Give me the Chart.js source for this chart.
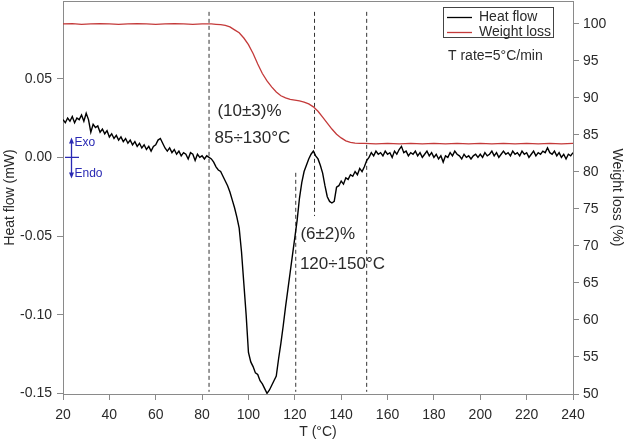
<!DOCTYPE html>
<html lang="en">
<head>
  <meta charset="UTF-8" />
  <title>Heat flow / Weight loss</title>
  <script src="https://cdnjs.cloudflare.com/ajax/libs/Chart.js/4.4.1/chart.umd.js"></script>
  <style>
    html, body { margin: 0; padding: 0; background: #fff; }
    #wrap { width: 625px; height: 443px; }
  </style>
</head>
<body>
  <div id="wrap"><canvas id="tga"></canvas></div>

  <script>
    // heat flow (mW), one reading per °C starting at 20 °C
    const heatStartT = 20;
    const heatFlow = [
      0.024, 0.022, 0.025, 0.023, 0.026, 0.022, 0.025, 0.024, 0.027, 0.023,
      0.028, 0.024, 0.016, 0.021, 0.019, 0.020, 0.016, 0.018, 0.015, 0.017,
      0.013, 0.015, 0.012, 0.014, 0.011, 0.013, 0.010, 0.012, 0.009, 0.011,
      0.008, 0.010, 0.007, 0.009, 0.006, 0.008, 0.005, 0.007, 0.004, 0.007,
      0.008, 0.011, 0.012, 0.009, 0.006, 0.004, 0.006, 0.003, 0.005, 0.002,
      0.004, 0.001, 0.003, 0.002, -0.001, 0.003, 0.002, -0.002, 0.002, 0.000,
      0.001, -0.001, 0.001, 0.000, -0.001, -0.003, -0.006, -0.008, -0.009, -0.012,
      -0.015, -0.018, -0.022, -0.027, -0.032, -0.038, -0.045, -0.060, -0.080, -0.100,
      -0.124, -0.130, -0.133, -0.137, -0.138, -0.142, -0.144, -0.147, -0.150, -0.148,
      -0.145, -0.142, -0.139, -0.128, -0.118, -0.107, -0.095, -0.084, -0.073, -0.062,
      -0.051, -0.040, -0.026, -0.016, -0.009, -0.005, -0.001, 0.002, 0.004, 0.001,
      -0.001, -0.005, -0.010, -0.018, -0.025, -0.028, -0.029, -0.028, -0.019, -0.018,
      -0.015, -0.017, -0.013, -0.014, -0.011, -0.012, -0.009, -0.011, -0.007, -0.009,
      -0.006, -0.002, 0.000, 0.003, 0.001, 0.004, 0.002, 0.003, 0.001, 0.004,
      0.002, 0.003, 0.000, 0.004, 0.002, 0.005, 0.007, 0.003, 0.004, 0.001,
      0.003, 0.002, 0.004, 0.001, 0.003, 0.000, 0.002, 0.004, 0.001, 0.003,
      0.000, 0.002, -0.001, 0.001, -0.003, 0.001, 0.000, 0.003, 0.001, 0.004,
      0.002, 0.001, -0.001, 0.002, 0.000, 0.001, -0.001, 0.001, 0.002, 0.000,
      0.002, 0.000, 0.003, 0.001, 0.002, 0.004, 0.001, 0.003, 0.000, 0.002,
      0.004, 0.002, 0.003, 0.001, 0.004, 0.002, 0.003, 0.001, 0.004, 0.002,
      0.003, 0.000, 0.002, 0.004, 0.001, 0.003, 0.002, 0.004, 0.003, 0.006,
      0.003, 0.002, 0.004, 0.001, 0.003, 0.000, 0.002, -0.001, 0.002, 0.001,
      0.003
    ];

    // weight loss (%)
    const weightT = [
      20, 24, 28, 32, 36, 40, 44, 48, 52, 56, 60, 64, 68, 72, 76, 80, 84,
      86, 88, 90, 92, 94, 96, 98, 100, 102, 104, 106, 108, 110, 112, 114, 116, 118,
      120, 122, 124, 126, 128, 130, 132, 134, 136, 138, 140, 142, 144, 146, 148, 150,
      155, 160, 165, 170, 175, 180, 185, 190, 195, 200, 205, 210, 215, 220, 225, 230, 235, 240
    ];
    const weightLoss = [
      100.0, 100.05, 99.95, 100.0, 100.05, 100.0, 99.95, 100.0, 100.05, 100.0, 99.95, 100.0, 100.05, 100.0, 99.95, 100.0, 100.0,
      99.95, 99.9, 99.8, 99.6, 99.2, 98.8, 98.1, 97.2, 96.0, 94.6, 93.3, 92.3, 91.5, 90.8, 90.3, 90.0, 89.8,
      89.7, 89.6, 89.45, 89.2, 88.8, 88.2, 87.4, 86.6, 85.8, 85.1, 84.6, 84.2, 84.0, 83.9, 83.85, 83.85,
      83.8, 83.85, 83.8, 83.85, 83.8, 83.85, 83.8, 83.85, 83.8, 83.85, 83.8, 83.85, 83.8, 83.85, 83.8, 83.85, 83.8, 83.85
    ];

    // dashed markers: temperature, top and bottom (heat-flow units)
    const markerT = [83, 128.5, 151, 120.4];
    const markerTop = [0.0925, 0.0925, 0.0925, -0.0098];
    const markerBottom = [-0.149, -0.0373, -0.149, -0.149];

    const tempTicks = [20, 40, 60, 80, 100, 120, 140, 160, 180, 200, 220, 240];
    const heatTicks = [-0.15, -0.10, -0.05, 0.00, 0.05];
    const weightTicks = [50, 55, 60, 65, 70, 75, 80, 85, 90, 95, 100];

    const FONT = '"Liberation Sans", Arial, sans-serif';
    const AXIS_GRAY = '#8a8a8a';
    const TEXT = '#2a2a2a';
    const RED = '#c43a3a';
    const BLUE = '#2a2ab4';

    const heatPoints = heatFlow.map((v, i) => ({ x: heatStartT + i, y: v }));
    const weightPoints = weightT.map((t, i) => ({ x: t, y: weightLoss[i] }));

    const markerSets = markerT.map((t, i) => ({
      label: 'marker' + i,
      data: [{ x: t, y: markerTop[i] }, { x: t, y: markerBottom[i] }],
      yAxisID: 'y',
      borderColor: '#333',
      borderWidth: 1,
      borderDash: [4, 3],
      pointRadius: 0,
      inLegend: false,
    }));

    const annotations = [
      { text: '(10±3)%', x: 86.6, y: 0.0292 },
      { text: '85÷130°C', x: 85.4, y: 0.0119 },
      { text: '(6±2)%', x: 122.4, y: -0.0487 },
      { text: '120÷150°C', x: 122.2, y: -0.0679 },
    ];

    const decor = {
      id: 'decor',
      afterDraw(chart) {
        const { ctx, chartArea: a, scales } = chart;
        ctx.save();

        // top frame line
        ctx.strokeStyle = AXIS_GRAY;
        ctx.lineWidth = 1;
        ctx.beginPath();
        ctx.moveTo(a.left, a.top + 0.5);
        ctx.lineTo(a.right, a.top + 0.5);
        ctx.stroke();

        // annotations
        ctx.fillStyle = TEXT;
        ctx.font = '17px ' + FONT;
        ctx.textBaseline = 'middle';
        ctx.textAlign = 'left';
        annotations.forEach(n => {
          ctx.fillText(n.text, scales.x.getPixelForValue(n.x), scales.y.getPixelForValue(n.y));
        });

        // legend box
        const lx = a.left + 380, ly = a.top + 6;
        ctx.fillStyle = '#fff';
        ctx.fillRect(lx, ly, 110, 30);
        ctx.strokeStyle = '#444';
        ctx.strokeRect(lx + 0.5, ly + 0.5, 110, 30);
        ctx.font = '14px ' + FONT;
        chart.data.datasets.filter(d => d.inLegend !== false).forEach((d, i) => {
          const yy = ly + 10.5 + i * 15;
          ctx.strokeStyle = d.borderColor;
          ctx.lineWidth = 1.3;
          ctx.beginPath();
          ctx.moveTo(lx + 4, yy);
          ctx.lineTo(lx + 29, yy);
          ctx.stroke();
          ctx.fillStyle = TEXT;
          ctx.fillText(d.label, lx + 36, yy);
        });
        ctx.fillText('T rate=5°C/min', lx + 5, ly + 49);

        // Exo / Endo indicator at the zero line
        const y0 = scales.y.getPixelForValue(0);
        const cx = a.left + 8.5;
        ctx.strokeStyle = BLUE;
        ctx.fillStyle = BLUE;
        ctx.lineWidth = 1.3;
        ctx.beginPath();
        ctx.moveTo(cx, y0 - 17); ctx.lineTo(cx, y0 + 18);
        ctx.moveTo(a.left + 2, y0); ctx.lineTo(a.left + 16, y0);
        ctx.stroke();
        ctx.beginPath();
        ctx.moveTo(cx, y0 - 20); ctx.lineTo(cx - 2.5, y0 - 14); ctx.lineTo(cx + 2.5, y0 - 14); ctx.closePath();
        ctx.moveTo(cx, y0 + 21); ctx.lineTo(cx - 2.5, y0 + 15); ctx.lineTo(cx + 2.5, y0 + 15); ctx.closePath();
        ctx.fill();
        ctx.font = '12px ' + FONT;
        ctx.fillText('Exo', cx + 3, y0 - 15);
        ctx.fillText('Endo', cx + 3, y0 + 16);

        ctx.restore();
      }
    };

    // fixed scale sizes so the plot box sits where the original's does
    const fixBox = (w, h) => s => {
      if (w !== null) s.width = w;
      if (h !== null) s.height = h;
      s.paddingTop = 0; s.paddingBottom = 0; s.paddingLeft = 0; s.paddingRight = 0;
    };

    const tickCommon = { color: TEXT, font: { family: FONT, size: 14 } };
    const gridCommon = { drawOnChartArea: false, drawTicks: true, tickLength: 6, color: AXIS_GRAY };
    const borderCommon = { display: true, color: AXIS_GRAY, width: 1 };

    new Chart(document.getElementById('tga'), {
      type: 'line',
      data: {
        datasets: [
          {
            label: 'Heat flow',
            data: heatPoints,
            yAxisID: 'y',
            borderColor: '#000',
            borderWidth: 1.4,
            pointRadius: 0,
          },
          {
            label: 'Weight loss',
            data: weightPoints,
            yAxisID: 'y1',
            borderColor: RED,
            borderWidth: 1.3,
            pointRadius: 0,
          },
          ...markerSets,
        ]
      },
      options: {
        responsive: true,
        maintainAspectRatio: false,
        animation: false,
        layout: { padding: { top: 1, left: 0, right: 0, bottom: 0 } },
        plugins: {
          legend: { display: false },
          tooltip: { enabled: false },
        },
        scales: {
          x: {
            type: 'linear',
            min: 20,
            max: 240,
            afterBuildTicks: s => { s.ticks = tempTicks.map(v => ({ value: v })); },
            afterFit: fixBox(null, 49),
            ticks: { ...tickCommon, padding: 7, maxRotation: 0 },
            grid: gridCommon,
            border: borderCommon,
            title: { display: true, text: 'T (°C)', color: TEXT, font: { family: FONT, size: 14 }, padding: { top: 0, bottom: 2 } },
          },
          y: {
            position: 'left',
            min: -0.1504,
            max: 0.0994,
            afterBuildTicks: s => { s.ticks = heatTicks.map(v => ({ value: v })); },
            afterFit: fixBox(63, null),
            ticks: { ...tickCommon, padding: 5, callback: v => v.toFixed(2) },
            grid: gridCommon,
            border: borderCommon,
            title: { display: true, text: 'Heat flow (mW)', color: TEXT, font: { family: FONT, size: 14 }, padding: { top: 2, bottom: 0 } },
          },
          y1: {
            position: 'right',
            min: 50,
            max: 103.1,
            afterBuildTicks: s => { s.ticks = weightTicks.map(v => ({ value: v })); },
            afterFit: fixBox(52, null),
            ticks: { ...tickCommon, padding: 4 },
            grid: gridCommon,
            border: borderCommon,
            title: { display: true, text: 'Weight loss (%)', color: TEXT, font: { family: FONT, size: 14 }, padding: { top: 0, bottom: 0 } },
          },
        }
      },
      plugins: [decor],
    });
  </script>
</body>
</html>
